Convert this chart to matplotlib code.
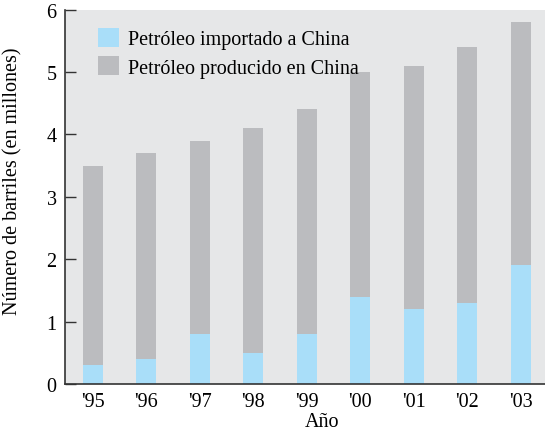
import matplotlib
matplotlib.use("Agg")
import matplotlib.pyplot as plt
import numpy as np

years = ["'95", "'96", "'97", "'98", "'99", "'00", "'01", "'02", "'03"]
imported = [0.3, 0.4, 0.8, 0.5, 0.8, 1.4, 1.2, 1.3, 1.9]
total = [3.5, 3.7, 3.9, 4.1, 4.4, 5.0, 5.1, 5.4, 5.8]
produced = [t - i for t, i in zip(total, imported)]

blue = "#A9DEF9"
gray = "#BBBCBF"
bg = "#E6E7E8"

plt.rcParams["font.family"] = ["Liberation Serif", "DejaVu Serif"]

fig = plt.figure(figsize=(5.45, 4.31), dpi=100)
ax = fig.add_axes([65 / 545, 1 - 385 / 431, 1 - 65 / 545, (385 - 10.5) / 431])
ax.set_facecolor(bg)

x = np.arange(len(years))
w = 0.374
b1 = ax.bar(x, imported, width=w, color=blue, label="Petróleo importado a China")
b2 = ax.bar(x, produced, width=w, bottom=imported, color=gray,
            label="Petróleo producido en China")

ax.set_xlim(-0.523, 8.45)
ax.set_ylim(0, 6)
ax.set_yticks(range(0, 7))
ax.set_xticks(x)
ax.set_xticklabels(years)

for s in ["top", "right"]:
    ax.spines[s].set_visible(False)
for s in ["left", "bottom"]:
    ax.spines[s].set_color("#333333")
    ax.spines[s].set_linewidth(1.2)

fs = 14.5
ax.tick_params(axis="y", direction="in", length=8, width=1.0, color="#333333",
               labelsize=fs, pad=6)
ax.tick_params(axis="x", length=0, labelsize=fs, pad=6)

ax.set_xlabel("Año", fontsize=fs)
ax.xaxis.set_label_coords(0.535, -0.075)
ax.set_ylabel("Número de barriles (en millones)", fontsize=fs)
ax.yaxis.set_label_coords(-0.088, 0.545)

ax.legend(handles=[b1, b2], loc="upper left", bbox_to_anchor=(0.053, 0.972),
          frameon=False, fontsize=fs, handlelength=1.0, handleheight=1.05,
          handletextpad=0.45, labelspacing=0.35, borderaxespad=0)

fig.savefig("out.png", dpi=100)
